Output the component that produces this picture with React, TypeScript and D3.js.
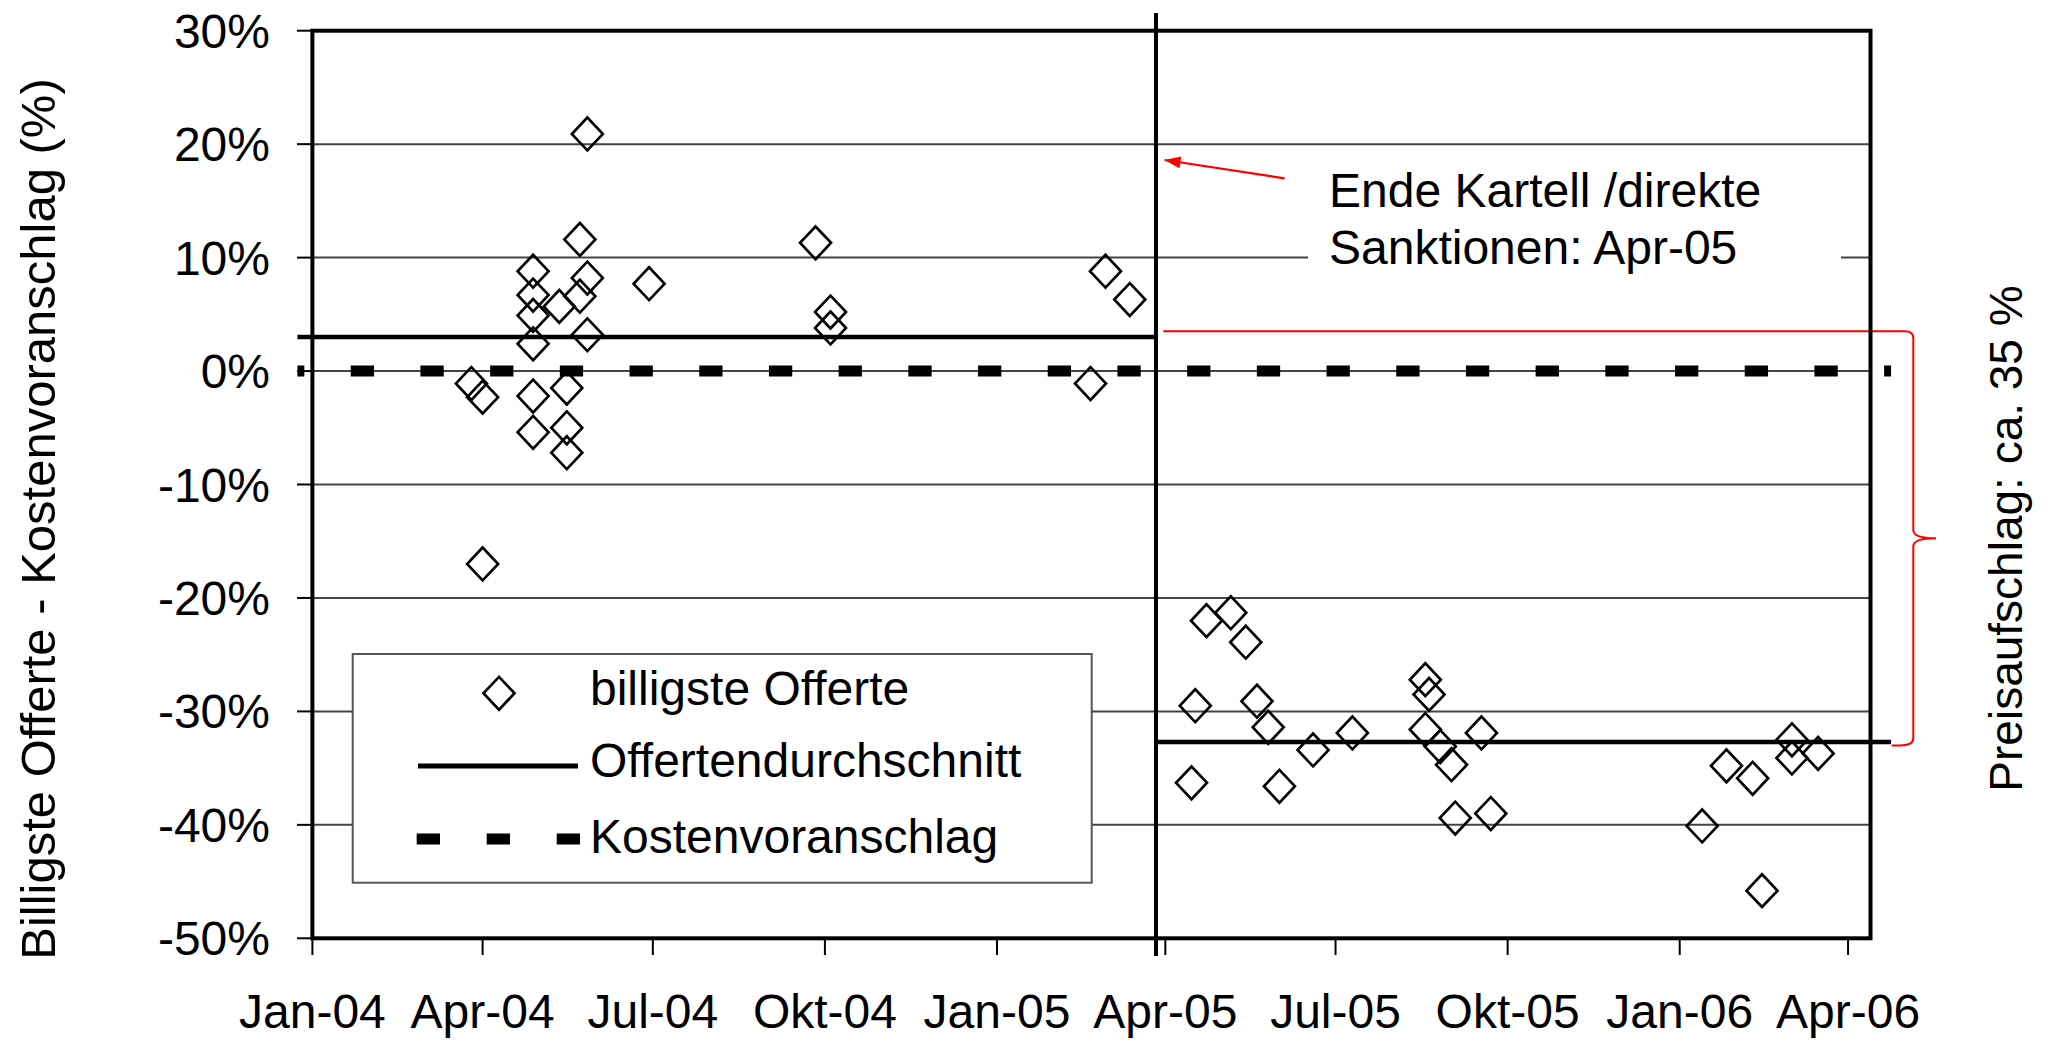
import * as d3 from 'd3'

const parseDate = d3.utcParse('%Y-%m-%d')

// billigste Offerte (Abweichung vom Kostenvoranschlag in %)
const offerDates = [
  '2004-05-27', '2004-05-23', '2004-04-28', '2004-04-28', '2004-04-28', '2004-04-28',
  '2004-05-12', '2004-05-27', '2004-05-23', '2004-05-27', '2004-06-29', '2004-03-26',
  '2004-04-01', '2004-04-28', '2004-05-16', '2004-04-28', '2004-05-16', '2004-05-16',
  '2004-04-01', '2004-09-26', '2004-10-04', '2004-10-04', '2005-02-28', '2005-03-13',
  '2005-02-20',
  '2005-04-23', '2005-05-06', '2005-05-14', '2005-04-17', '2005-04-15', '2005-05-20',
  '2005-05-26', '2005-06-19', '2005-07-10', '2005-06-01', '2005-08-18', '2005-08-20',
  '2005-08-18', '2005-08-26', '2005-09-01', '2005-09-17', '2005-09-03', '2005-09-22',
  '2006-01-13', '2006-01-26', '2006-02-09', '2006-02-14', '2006-03-02', '2006-03-02',
  '2006-03-16',
]
const offerValues = [
  20.9, 11.6, 8.8, 6.7, 4.9, 2.4,
  5.7, 8.2, 6.6, 3.2, 7.7, -1.1,
  -2.3, -2.2, -1.5, -5.4, -5.0, -7.2,
  -17.0, 11.3, 5.2, 3.8, 8.8, 6.3,
  -1.1,
  -22.0, -21.3, -23.9, -29.5, -36.3, -29.1,
  -31.4, -33.4, -31.9, -36.6, -27.2, -28.5,
  -31.6, -33.1, -34.7, -31.9, -39.4, -39.0,
  -40.1, -34.8, -35.9, -45.8, -32.5, -34.1,
  -33.7,
]

// Offertendurchschnitt, vor und nach Kartellende
const meanStarts = ['2003-12-24', '2005-03-27']
const meanEnds = ['2005-03-27', '2006-04-24']
const meanValues = [3.0, -32.7]

// Kostenvoranschlag
const estimateDates = ['2003-12-24', '2006-04-24']
const estimateValues = [0, 0]

const yTicks = [30, 20, 10, 0, -10, -20, -30, -40, -50]
const yTickLabels = ['30%', '20%', '10%', '0%', '-10%', '-20%', '-30%', '-40%', '-50%']
const xTickDates = [
  '2004-01-01', '2004-04-01', '2004-07-01', '2004-10-01', '2005-01-01',
  '2005-04-01', '2005-07-01', '2005-10-01', '2006-01-01', '2006-04-01',
]
const xTickLabels = [
  'Jan-04', 'Apr-04', 'Jul-04', 'Okt-04', 'Jan-05',
  'Apr-05', 'Jul-05', 'Okt-05', 'Jan-06', 'Apr-06',
]
const sanctionDate = '2005-03-27'
const legendLabels = ['billigste Offerte', 'Offertendurchschnitt', 'Kostenvoranschlag']

const font = "Arial, 'Liberation Sans', sans-serif"

export default function App() {
  const width = 2065
  const height = 1041
  const plotLeft = 312.4
  const plotRight = 1870.5
  const plotTop = 30.7
  const plotBottom = 938.3

  const x = d3.scaleUtc([parseDate('2004-01-01')!, parseDate('2006-04-13')!], [plotLeft, plotRight])
  const y = d3.scaleLinear([-50, 30], [plotBottom, plotTop])

  const diamond = d3.symbol(d3.symbolSquare, 480)()!

  const estimateLine = d3.line<number>()
    .x((_, i) => x(parseDate(estimateDates[i])!))
    .y(v => y(v))(estimateValues)!

  const xSanction = x(parseDate(sanctionDate)!)

  return (
    <svg width={width} height={height} style={{position: 'absolute', left: 0, top: 0, background: '#fff'}}
         fontFamily={font}>
      <defs>
        <marker id="redArrow" markerUnits="userSpaceOnUse" viewBox="0 0 16 12" refX={16} refY={6}
                markerWidth={16} markerHeight={12} orient="auto">
          <path d="M0,0 L16,6 L0,12 z" fill="#ff0000"/>
        </marker>
      </defs>
      <rect width={width} height={height} fill="#fff"/>

      {/* gridlines + y ticks */}
      {yTicks.map(t => (
        <g key={t}>
          <line x1={plotLeft} x2={plotRight} y1={y(t)} y2={y(t)} stroke="#444" strokeWidth={2}/>
          <line x1={297} x2={plotLeft} y1={y(t)} y2={y(t)} stroke="#000" strokeWidth={2}/>
        </g>
      ))}

      {/* annotation box */}
      <rect x={1308} y={165} width={533} height={125} fill="#fff"/>
      <text fontSize={48} fill="#000">
        <tspan x={1329} y={207}>Ende Kartell /direkte</tspan>
        <tspan x={1329} y={263.5}>Sanktionen: Apr-05</tspan>
      </text>

      {/* legend */}
      <rect x={352.7} y={654} width={739} height={228.7} fill="#fff" stroke="#555" strokeWidth={2}/>
      <path d={diamond} transform="translate(499,693.3) scale(1,1.06) rotate(45)" fill="none" stroke="#000"
            strokeWidth={2.6}/>
      <line x1={418} x2={578} y1={766} y2={766} stroke="#000" strokeWidth={5}/>
      <line x1={416.7} x2={580} y1={839} y2={839} stroke="#000" strokeWidth={11}
            strokeDasharray="23.3 46.7"/>
      {legendLabels.map((l, i) => (
        <text key={l} x={590} y={[705, 777, 853][i]} fontSize={48}>{l}</text>
      ))}

      {/* red bracket and arrow */}
      <path
        d="M1163.3,331.3 H1905 Q1913.3,331.3 1913.3,338 V530 Q1913.3,538.3 1936,538.3 Q1913.3,538.3 1913.3,546.6 V738 Q1913.3,745.5 1900,745.5 H1891.7"
        fill="none" stroke="#ff0000" strokeWidth={2}/>
      <line x1={1284.6} y1={178.3} x2={1164.6} y2={160} stroke="#ff0000" strokeWidth={2.2}
            markerEnd="url(#redArrow)"/>

      {/* Kostenvoranschlag */}
      <path d={estimateLine} fill="none" stroke="#000" strokeWidth={11} strokeDasharray="23.3 46.4"
            strokeDashoffset={16.4}/>

      {/* Offertendurchschnitt */}
      {meanValues.map((v, i) => (
        <line key={i} x1={x(parseDate(meanStarts[i])!)} x2={x(parseDate(meanEnds[i])!)} y1={y(v)} y2={y(v)}
              stroke="#000" strokeWidth={4.5}/>
      ))}

      {/* billigste Offerte */}
      {offerValues.map((v, i) => (
        <path key={i} d={diamond}
              transform={`translate(${x(parseDate(offerDates[i])!)},${y(v)}) scale(1,1.06) rotate(45)`}
              fill="none" stroke="#000" strokeWidth={2.6}/>
      ))}

      {/* plot frame */}
      <rect x={plotLeft} y={plotTop} width={plotRight - plotLeft} height={plotBottom - plotTop} fill="none"
            stroke="#000" strokeWidth={4}/>

      {/* sanction line */}
      <line x1={xSanction} x2={xSanction} y1={13} y2={956} stroke="#000" strokeWidth={4}/>

      {/* x ticks and labels */}
      {xTickDates.map((d, i) => {
        const xp = x(parseDate(d)!)
        return (
          <g key={d}>
            <line x1={xp} x2={xp} y1={plotBottom} y2={955} stroke="#000" strokeWidth={2}/>
            <text x={xp} y={1028} fontSize={48} textAnchor="middle">{xTickLabels[i]}</text>
          </g>
        )
      })}

      {/* y labels */}
      {yTicks.map((t, i) => (
        <text key={t} x={270} y={y(t) + 17} fontSize={48} textAnchor="end">{yTickLabels[i]}</text>
      ))}

      {/* axis titles */}
      <text transform="translate(55,519) rotate(-90)" fontSize={49} textAnchor="middle">
        Billigste Offerte - Kostenvoranschlag (%)
      </text>
      <text transform="translate(2022,538.5) rotate(-90)" fontSize={46} textAnchor="middle">
        Preisaufschlag: ca. 35 %
      </text>
    </svg>
  )
}
